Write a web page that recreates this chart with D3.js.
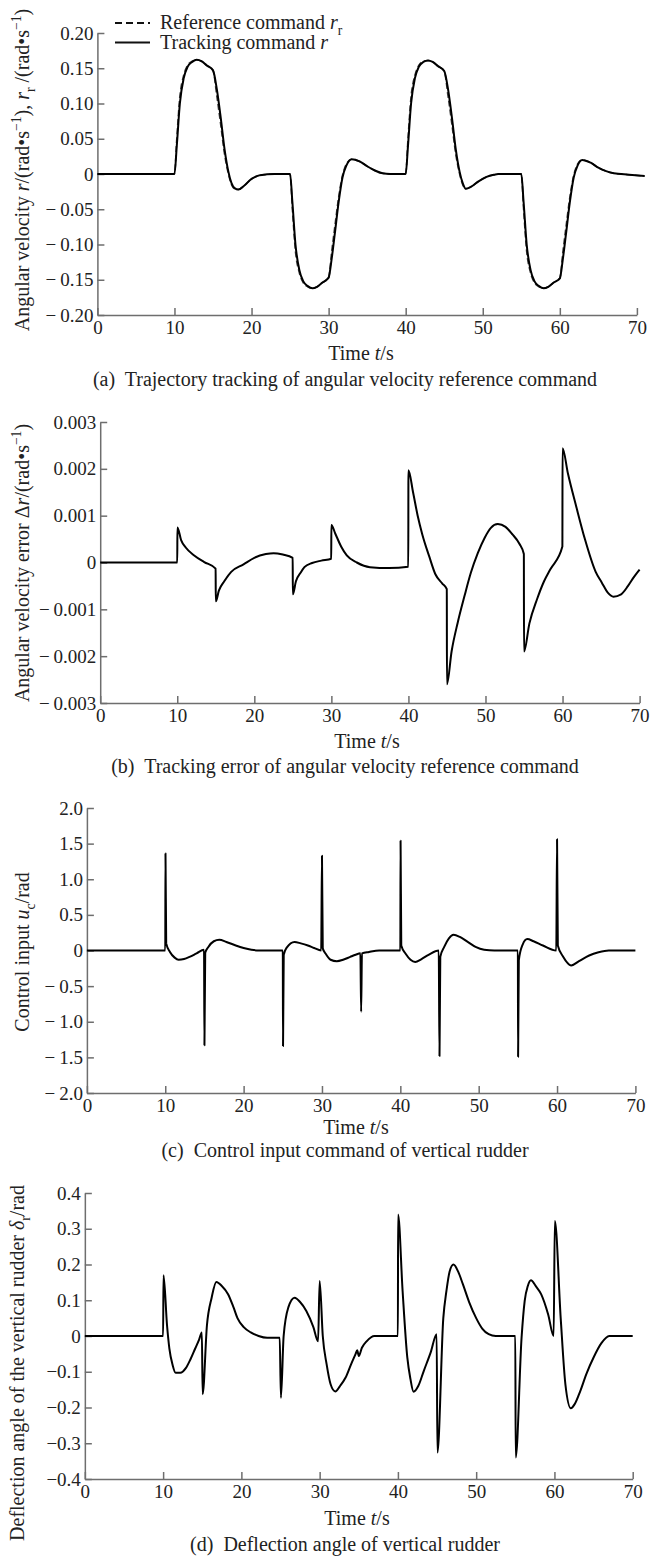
<!DOCTYPE html>
<html><head><meta charset="utf-8">
<script src="https://cdn.jsdelivr.net/npm/d3@7"></script>
<style>
body{margin:0;background:#fff}
svg{display:block}
text{font-family:"Liberation Serif","Times New Roman",Times,serif;fill:#222}
</style>
</head><body>
<svg id="chart" width="658" height="1560"></svg>
<script>
// ---------- shared ----------
const xTicks = [0, 10, 20, 30, 40, 50, 60, 70];

// ---------- panel (a): angular velocity ----------
const yTicksA = [-0.2, -0.15, -0.1, -0.05, 0, 0.05, 0.1, 0.15, 0.2];
const tA = [0,10,10.3,10.7,11.2,11.7,12.3,12.9,13.5,14.2,15,15.5,16,16.5,17,17.4,17.8,18.3,19,20,21,22,23,25,
  25.3,25.7,26.2,26.7,27.3,27.9,28.5,29.2,30,30.4,30.8,31.3,31.8,32.3,33,34,35,36,37,38,40,
  40.3,40.7,41.2,41.7,42.3,42.9,43.5,44.2,45,45.5,46,46.5,47,47.4,47.8,48.5,49.5,50.5,51.5,52,55,
  55.3,55.7,56.2,56.7,57.3,57.9,58.5,59.2,60,60.4,60.8,61.3,61.8,62.3,62.9,64,65,66,67,69,71];
const rTrack = [0,0,0.04,0.10,0.136,0.152,0.159,0.162,0.160,0.154,0.147,0.12,0.08,0.035,0.003,-0.013,-0.02,-0.022,-0.017,-0.007,-0.002,-0.0005,0,0,
  -0.04,-0.10,-0.136,-0.152,-0.159,-0.162,-0.160,-0.154,-0.147,-0.12,-0.085,-0.04,-0.005,0.012,0.021,0.018,0.011,0.005,0.001,0,0,
  0.04,0.10,0.136,0.152,0.159,0.161,0.159,0.153,0.146,0.12,0.08,0.035,0.003,-0.013,-0.021,-0.018,-0.01,-0.004,-0.001,0,0,
  -0.04,-0.10,-0.136,-0.152,-0.159,-0.162,-0.160,-0.154,-0.148,-0.12,-0.085,-0.04,-0.005,0.012,0.02,0.016,0.009,0.004,0.001,-0.001,-0.003];
const rRef = [0,0,0.05,0.11,0.14,0.154,0.160,0.162,0.160,0.154,0.147,0.11,0.07,0.028,0.0,-0.015,-0.021,-0.022,-0.017,-0.007,-0.002,-0.0005,0,0,
  -0.05,-0.11,-0.14,-0.154,-0.160,-0.162,-0.160,-0.154,-0.147,-0.11,-0.075,-0.033,-0.002,0.014,0.021,0.018,0.011,0.005,0.001,0,0,
  0.05,0.11,0.14,0.154,0.160,0.161,0.159,0.153,0.146,0.11,0.07,0.028,0.0,-0.015,-0.021,-0.018,-0.01,-0.004,-0.001,0,0,
  -0.05,-0.11,-0.14,-0.154,-0.160,-0.162,-0.160,-0.154,-0.148,-0.11,-0.075,-0.033,-0.002,0.014,0.02,0.016,0.009,0.004,0.001,-0.001,-0.003];

// ---------- panel (b): tracking error ----------
const yTicksB = [-0.003, -0.002, -0.001, 0, 0.001, 0.002, 0.003];
const tB = [0,10,10.02,10.5,11.1,12.2,13.5,14.98,15,15.4,16.1,17,18.6,20,21.5,22.5,23.7,24.98,25,25.4,26,26.5,27.5,28.7,29.98,
  30,30.5,31.3,32,33.3,35,37.5,39.98,40,40.6,41.2,41.8,42.7,43.5,44.4,44.98,45,45.6,46.4,47.3,48.1,49,49.9,50.7,51.6,52.6,53.5,54.4,54.98,
  55,55.7,56.7,57.6,58.4,59.98,60,60.7,61.8,62.9,64.3,65.1,65.9,66.6,67.6,68.5,69.3,70];
const errB = [0,0,0.00075,0.00048,0.00032,0.00015,0.00001,-0.00013,-0.00083,-0.0006,-0.0004,-0.0002,-0.00004,0.0001,0.00018,0.0002,0.00017,0.0001,-0.00068,-0.0004,-0.00022,-0.0001,-0.00001,0.00004,0.00008,
  0.0008,0.00062,0.00033,0.00015,0.0,-0.0001,-0.00012,-0.00009,0.00197,0.0015,0.001,0.0006,0.00013,-0.00025,-0.00045,-0.00057,-0.0026,-0.0019,-0.00128,-0.0007,-0.00022,0.0002,0.00053,0.00074,0.00082,0.00076,0.0006,0.0004,0.00018,
  -0.0019,-0.0013,-0.00078,-0.0004,-0.00015,0.00034,0.00244,0.0019,0.00118,0.0005,-0.0002,-0.00043,-0.00065,-0.00073,-0.00068,-0.0005,-0.0003,-0.00015];

// ---------- panel (c): control input ----------
const yTicksC = [-2, -1.5, -1, -0.5, 0, 0.5, 1, 1.5, 2];
const tC = [0,10,10.03,10.12,10.6,11.2,11.7,12.4,13.1,14,14.95,15,15.1,15.5,16.2,16.9,17.8,19,20,21,22,25,
  25.03,25.12,25.5,26.5,27.3,28.2,29,29.9,30,30.1,30.5,31.1,31.9,32.7,33.6,34.3,34.9,35,35.1,36,37.3,40,
  40.03,40.12,40.7,41.3,41.9,42.7,43.6,44.9,45,45.1,45.6,46.2,46.8,47.6,48.6,49.6,50.7,52,55,
  55.03,55.12,55.6,56.2,57,58.2,59.9,60,60.1,60.8,61.3,61.8,62.8,64.1,65.3,66.6,70];
const uC = [0,0,1.36,0.1,-0.02,-0.1,-0.13,-0.12,-0.09,-0.04,0.01,-1.33,-0.03,0.05,0.13,0.15,0.12,0.07,0.035,0.01,0,0,
  -1.34,-0.06,0.04,0.12,0.1,0.07,0.035,0,1.33,0.03,-0.05,-0.13,-0.15,-0.13,-0.09,-0.06,-0.04,-0.86,-0.04,-0.02,0,0,
  1.54,0.07,-0.05,-0.13,-0.16,-0.12,-0.06,0,-1.48,-0.09,0.05,0.17,0.22,0.19,0.12,0.05,0.01,0,0,
  -1.49,-0.14,0.08,0.16,0.13,0.07,0,1.56,0.07,-0.09,-0.17,-0.21,-0.15,-0.07,-0.025,0,0];

// ---------- panel (d): rudder deflection ----------
const yTicksD = [-0.4, -0.3, -0.2, -0.1, 0, 0.1, 0.2, 0.3, 0.4];
const tD = [0,10,10.05,10.5,10.8,11.2,11.6,12.2,12.9,13.5,14.1,14.6,14.95,15.05,15.6,16.2,16.8,17.5,18.3,19,19.5,20.3,21.2,22.2,23.3,24.9,
  25.05,25.4,26,26.8,27.5,28.3,29.2,29.8,30,30.4,30.9,31.4,32,32.6,33.3,34,34.6,34.8,35,35.4,36,37,40,
  40.02,40.6,41.2,41.6,42,42.6,43.3,44.2,44.95,45.05,45.8,46.2,46.6,47.1,47.7,48.3,49.1,50,50.8,51.6,52.5,55,
  55.05,55.8,56.2,56.6,57,57.6,58.3,59.2,59.9,60.05,60.8,61.4,62.1,62.6,63.3,64.1,65,66,67,70];
const deltaD = [0,0,0.17,0.03,-0.035,-0.08,-0.103,-0.103,-0.09,-0.065,-0.035,-0.01,0.01,-0.163,0.03,0.107,0.151,0.14,0.117,0.08,0.05,0.025,0.01,0,-0.005,-0.005,
  -0.173,0,0.08,0.107,0.095,0.07,0.025,-0.015,0.154,0,-0.08,-0.135,-0.155,-0.14,-0.117,-0.08,-0.05,-0.04,-0.056,-0.033,-0.015,0,0,
  0.34,0.126,-0.06,-0.12,-0.156,-0.14,-0.098,-0.045,0.005,-0.326,0.05,0.126,0.18,0.2,0.18,0.145,0.095,0.05,0.02,0.005,0,0,
  -0.34,-0.005,0.098,0.14,0.156,0.14,0.117,0.06,0,0.322,0.05,-0.135,-0.202,-0.19,-0.154,-0.105,-0.06,-0.02,0,0];

// ---------- drawing ----------
const svg = d3.select("#chart");
svg.append("rect").attr("width", 658).attr("height", 1560).attr("fill", "#fff");

function richText(sel, parts, baseSize) {
  let shift = 0;
  parts.forEach(p => {
    const ts = sel.append("tspan").text(p.t);
    let target = 0;
    if (p.sup) target = -0.42 * baseSize;
    if (p.sub) target = 0.3 * baseSize;
    const dy = target - shift;
    if (dy !== 0) ts.attr("dy", dy);
    shift = target;
    if (p.sup || p.sub) ts.attr("font-size", baseSize * 0.68);
    if (p.i) ts.attr("font-style", "italic");
  });
}

function fmtMinus(decimals, gap) {
  const f = d3.format("." + decimals + "f");
  return v => {
    if (v === 0) return "0";
    const s = f(Math.abs(v));
    return v < 0 ? "\u2212" + gap + s : s;
  };
}

function panel(cfg) {
  const x = d3.scaleLinear().domain([0, 70]).range(cfg.xr);
  const y = d3.scaleLinear().domain(cfg.yd).range(cfg.yr);
  const g = svg.append("g");

  const gx = g.append("g").attr("transform", `translate(0,${cfg.yr[0]})`)
    .call(d3.axisBottom(x).tickValues(xTicks).tickSizeInner(-7).tickSizeOuter(0).tickPadding(6).tickFormat(d3.format("d")));
  const gy = g.append("g").attr("transform", `translate(${cfg.xr[0]},0)`)
    .call(d3.axisLeft(y).tickValues(cfg.yTicks).tickSizeInner(-7).tickSizeOuter(0).tickPadding(4).tickFormat(cfg.fmt));
  [gx, gy].forEach(a => {
    a.attr("font-size", null).attr("font-family", null);
    a.selectAll("path.domain").attr("stroke", "#6e6e6e").attr("stroke-width", 1.5);
    a.selectAll(".tick line").attr("stroke", "#6e6e6e").attr("stroke-width", 1.5);
    a.selectAll(".tick text").attr("fill", "#222").style("font-size", "19px");
  });

  const line = d3.line().curve(d3.curveMonotoneX).x(d => x(d[0])).y(d => y(d[1]));
  cfg.series.forEach(s => {
    g.append("path").datum(d3.zip(s.t, s.v)).attr("d", line)
      .attr("fill", "none").attr("stroke", s.color).attr("stroke-width", s.w)
      .attr("stroke-dasharray", s.dash || null).attr("stroke-linejoin", "round");
  });

  // y title
  const yt = g.append("text").attr("text-anchor", "middle").style("font-size", "20px")
    .attr("transform", `translate(${cfg.ytx},${cfg.yty}) rotate(-90)`);
  richText(yt, cfg.ytitle, 20);

  // x title
  const xt = g.append("text").attr("text-anchor", "middle").style("font-size", "20px")
    .attr("x", cfg.xtx).attr("y", cfg.xty);
  richText(xt, [{t: "Time "}, {t: "t", i: true}, {t: "/s"}], 20);

  // caption
  g.append("text").attr("text-anchor", "middle").style("font-size", "20px")
    .attr("x", 345).attr("y", cfg.capy).attr("xml:space", "preserve").text(cfg.caption);
  return g;
}

const sup1 = {t: "\u22121", sup: true};

const gA = panel({
  xr: [97.4, 636.9], yr: [315, 33], yd: [-0.2, 0.2], yTicks: yTicksA, fmt: fmtMinus(2, "\u2009"),
  series: [
    {t: tA, v: rRef, color: "#444", w: 1.6, dash: "6,3"},
    {t: tA, v: rTrack, color: "#000", w: 2}
  ],
  ytx: 29, yty: 170,
  ytitle: [{t: "Angular velocity "}, {t: "r", i: true}, {t: "/(rad\u2022s"}, sup1, {t: "), "},
           {t: "r", i: true}, {t: "r", sub: true}, {t: " /(rad\u2022s"}, sup1, {t: ")"}],
  xtx: 361, xty: 360, capy: 386,
  caption: "(a)  Trajectory tracking of angular velocity reference command"
});

// legend (panel a)
const legendItems = [
  {dash: "7,4", parts: [{t: "Reference command "}, {t: "r", i: true}, {t: "r", sub: true}]},
  {dash: null, parts: [{t: "Tracking command "}, {t: "r", i: true}]}
];
legendItems.forEach((it, i) => {
  const yy = 23 + i * 19.5;
  gA.append("line").attr("x1", 115).attr("x2", 150).attr("y1", yy).attr("y2", yy)
    .attr("stroke", "#111").attr("stroke-width", 2).attr("stroke-dasharray", it.dash);
  const tx = gA.append("text").attr("x", 160).attr("y", yy + 6).style("font-size", "20px");
  richText(tx, it.parts, 20);
});

panel({
  xr: [100.2, 639.6], yr: [703, 422], yd: [-0.003, 0.003], yTicks: yTicksB, fmt: fmtMinus(3, "\u2009"),
  series: [{t: tB, v: errB, color: "#000", w: 2}],
  ytx: 29, yty: 563,
  ytitle: [{t: "Angular velocity error \u0394"}, {t: "r", i: true}, {t: "/(rad\u2022s"}, sup1, {t: ")"}],
  xtx: 367, xty: 748, capy: 773,
  caption: "(b)  Tracking error of angular velocity reference command"
});

panel({
  xr: [86.9, 635.4], yr: [1093, 808], yd: [-2, 2], yTicks: yTicksC, fmt: fmtMinus(1, "\u2009"),
  series: [{t: tC, v: uC, color: "#000", w: 2}],
  ytx: 29, yty: 952,
  ytitle: [{t: "Control input "}, {t: "u", i: true}, {t: "c", sub: true}, {t: "/rad"}],
  xtx: 356, xty: 1134, capy: 1157,
  caption: "(c)  Control input command of vertical rudder"
});

panel({
  xr: [84.85, 632.7], yr: [1479, 1193], yd: [-0.4, 0.4], yTicks: yTicksD, fmt: fmtMinus(1, ""),
  series: [{t: tD, v: deltaD, color: "#000", w: 2}],
  ytx: 24, yty: 1363,
  ytitle: [{t: "Deflection angle of the vertical rudder "}, {t: "\u03b4", i: true}, {t: "r", sub: true}, {t: "/rad"}],
  xtx: 357, xty: 1525, capy: 1551,
  caption: "(d)  Deflection angle of vertical rudder"
});
</script>
</body></html>
